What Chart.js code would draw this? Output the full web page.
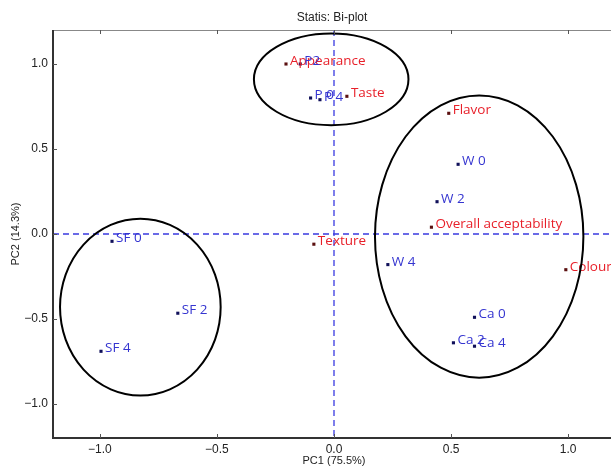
<!DOCTYPE html>
<html>
<head>
<meta charset="utf-8">
<script src="https://cdn.jsdelivr.net/npm/chart.js@4.4.1/dist/chart.umd.min.js"></script>
<style>
  body { margin: 0; background: #fff; overflow: hidden; }
  #wrap { width: 611px; height: 468px; overflow: hidden; }
</style>
</head>
<body>
<div id="wrap"><canvas id="chart" width="620" height="468"></canvas></div>
<script>
// variables (red)
const varNames = ['Appearance', 'Taste', 'Flavor', 'Overall acceptability', 'Texture', 'Colour'];
const varX = [-0.205, 0.055, 0.49, 0.416, -0.086, 0.99];
const varY = [1.0, 0.81, 0.71, 0.04, -0.06, -0.21];

// samples (blue)
const obsNames = ['P2', 'P 0', 'P 4', 'W 0', 'W 2', 'W 4', 'Ca 0', 'Ca 2', 'Ca 4', 'SF 0', 'SF 2', 'SF 4'];
const obsX = [-0.144, -0.10, -0.06, 0.53, 0.44, 0.23, 0.60, 0.51, 0.60, -0.948, -0.667, -0.995];
const obsY = [1.0, 0.80, 0.79, 0.41, 0.19, -0.18, -0.49, -0.64, -0.66, -0.043, -0.466, -0.69];

// group ellipses
const ellCx = [-0.012, -0.827, 0.62];
const ellCy = [0.91, -0.43, -0.015];
const ellRx = [0.33, 0.343, 0.445];
const ellRy = [0.27, 0.52, 0.83];

const tickVals = [-1.0, -0.5, 0.0, 0.5, 1.0];
const axisMin = -1.2, axisMax = 1.2;

const toPts = (xs, ys) => xs.map((x, i) => ({ x: x, y: ys[i] }));

const minus = function(v) {
  return v.toFixed(1).replace('-', '\u2212');
}

const extras = {
  id: 'extras',
  beforeDatasetsDraw(chart) {
    const ctx = chart.ctx, xs = chart.scales.x, ys = chart.scales.y;
    ctx.save();
    // dashed zero lines
    ctx.strokeStyle = '#3a3ae0';
    ctx.lineWidth = 1.3;
    ctx.setLineDash([6, 4]);
    ctx.beginPath();
    ctx.moveTo(xs.getPixelForValue(0), ys.getPixelForValue(axisMax));
    ctx.lineTo(xs.getPixelForValue(0), ys.getPixelForValue(axisMin));
    ctx.moveTo(xs.getPixelForValue(axisMin), ys.getPixelForValue(0));
    ctx.lineTo(xs.getPixelForValue(axisMax), ys.getPixelForValue(0));
    ctx.stroke();
    ctx.restore();
  },
  afterDatasetsDraw(chart) {
    const ctx = chart.ctx, xs = chart.scales.x, ys = chart.scales.y, a = chart.chartArea;
    ctx.save();
    // labels
    ctx.font = '13.5px "Open Sans"';
    ctx.textBaseline = 'alphabetic';
    ctx.textAlign = 'left';
    ctx.fillStyle = '#e8202a';
    varNames.forEach((n, i) => ctx.fillText(n, xs.getPixelForValue(varX[i]) + 4, ys.getPixelForValue(varY[i]) + 1));
    ctx.fillStyle = '#3535d0';
    obsNames.forEach((n, i) => ctx.fillText(n, xs.getPixelForValue(obsX[i]) + 4, ys.getPixelForValue(obsY[i]) + 1));
    // ellipses
    ctx.strokeStyle = '#000';
    ctx.lineWidth = 2;
    for (let i = 0; i < ellCx.length; i++) {
      const cx = xs.getPixelForValue(ellCx[i]), cy = ys.getPixelForValue(ellCy[i]);
      const rx = Math.abs(xs.getPixelForValue(ellCx[i] + ellRx[i]) - cx);
      const ry = Math.abs(ys.getPixelForValue(ellCy[i] + ellRy[i]) - cy);
      ctx.beginPath();
      ctx.ellipse(cx, cy, rx, ry, 0, 0, Math.PI * 2);
      ctx.stroke();
    }
    // frame
    ctx.lineWidth = 1;
    ctx.strokeStyle = '#888';
    ctx.strokeRect(a.left + 0.5, a.top + 0.5, a.right - a.left, a.bottom - a.top);
    ctx.strokeStyle = '#333';
    ctx.lineWidth = 2;
    ctx.beginPath();
    ctx.moveTo(a.left, a.top);
    ctx.lineTo(a.left, a.bottom);
    ctx.lineTo(a.right, a.bottom);
    ctx.stroke();
    // inward ticks
    ctx.lineWidth = 1;
    ctx.strokeStyle = '#555';
    ctx.beginPath();
    tickVals.forEach(v => {
      const px = Math.round(xs.getPixelForValue(v)) + 0.5;
      ctx.moveTo(px, a.bottom); ctx.lineTo(px, a.bottom - 4);
      ctx.moveTo(px, a.top); ctx.lineTo(px, a.top + 4);
      const py = Math.round(ys.getPixelForValue(v)) + 0.5;
      ctx.moveTo(a.left, py); ctx.lineTo(a.left + 4, py);
      ctx.moveTo(a.right, py); ctx.lineTo(a.right - 4, py);
    });
    ctx.stroke();
    // title
    ctx.fillStyle = '#222';
    ctx.font = '12px "Liberation Sans"';
    ctx.textAlign = 'center';
    ctx.textBaseline = 'middle';
    ctx.fillText('Statis: Bi-plot', (a.left + a.right) / 2 - 2, 18);
    ctx.restore();
  }
};

const ctx = document.getElementById('chart').getContext('2d');
const myChart = new Chart(ctx, {
  type: 'scatter',
  data: {
    datasets: [
      {
        data: toPts(varX, varY),
        pointStyle: 'rect',
        pointRadius: 2.2,
        backgroundColor: '#5a0f0f',
        borderColor: '#5a0f0f',
        borderWidth: 0
      },
      {
        data: toPts(obsX, obsY),
        pointStyle: 'rect',
        pointRadius: 2.2,
        backgroundColor: '#10105a',
        borderColor: '#10105a',
        borderWidth: 0
      }
    ]
  },
  options: {
    responsive: false,
    animation: false,
    layout: { padding: { top: 30, right: 5, left: 0, bottom: 0 } },
    plugins: { legend: { display: false }, tooltip: { enabled: false }, title: { display: false } },
    scales: {
      x: {
        type: 'linear', min: axisMin, max: axisMax,
        afterBuildTicks: (s) => { s.ticks = tickVals.map(v => ({ value: v })); },
        afterFit: (s) => { s.height = 30; },
        grid: { display: false, drawTicks: false },
        border: { display: false },
        ticks: { color: '#222', font: { family: 'Liberation Sans', size: 12 }, padding: 4, callback: (v) => minus(v) },
        title: { display: true, text: 'PC1 (75.5%)', color: '#222', font: { family: 'Liberation Sans', size: 11 }, padding: { top: 0, bottom: 0 } }
      },
      y: {
        type: 'linear', min: axisMin, max: axisMax,
        afterBuildTicks: (s) => { s.ticks = tickVals.map(v => ({ value: v })); },
        afterFit: (s) => { s.width = 53; },
        grid: { display: false, drawTicks: false },
        border: { display: false },
        ticks: { color: '#222', font: { family: 'Liberation Sans', size: 12 }, padding: 5, callback: (v) => minus(v) },
        title: { display: true, text: 'PC2 (14.3%)', color: '#222', font: { family: 'Liberation Sans', size: 11 }, padding: { top: 9, bottom: 0 } }
      }
    }
  },
  plugins: [extras]
});
</script>
</body>
</html>
